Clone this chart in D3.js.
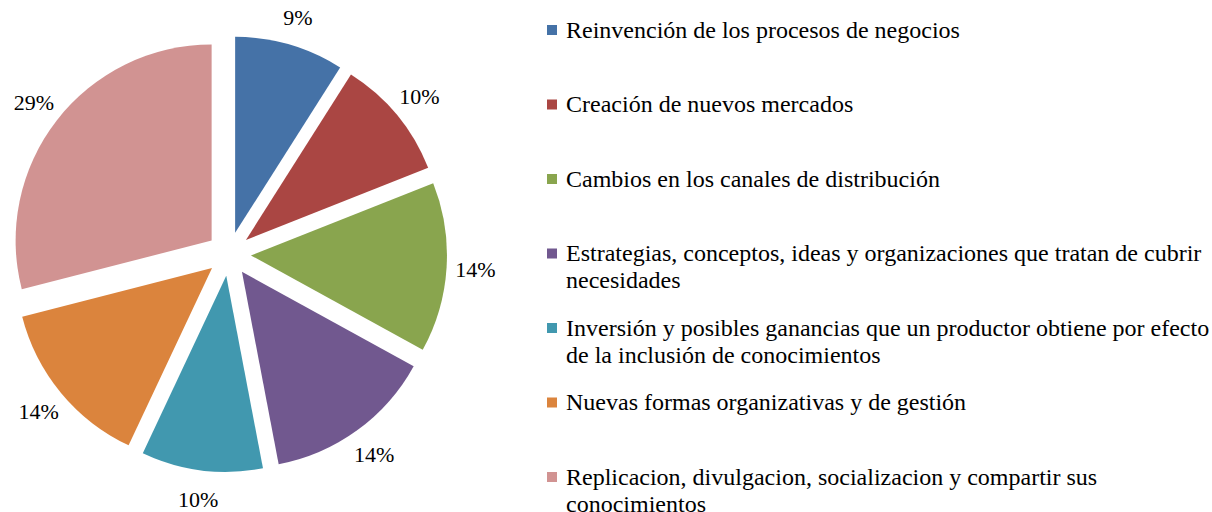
<!DOCTYPE html>
<html>
<head>
<meta charset="utf-8">
<script src="https://cdn.jsdelivr.net/npm/d3@7"></script>
<style>
  body { margin: 0; background: #fff; }
  text { font-family: "Liberation Serif", "Times New Roman", serif; fill: #000; }
</style>
</head>
<body>
<svg class="chart"></svg>
<script>
// legend text, line breaks as in the original legend
var categories = [
  "Reinvención de los procesos de negocios",
  "Creación de nuevos mercados",
  "Cambios en los canales de distribución",
  "Estrategias, conceptos, ideas y organizaciones que tratan de cubrir\nnecesidades",
  "Inversión y posibles ganancias que un productor obtiene por efecto\nde la inclusión de conocimientos",
  "Nuevas formas organizativas y de gestión",
  "Replicacion, divulgacion, socializacion y compartir sus\nconocimientos"
];
var values = [9, 10, 14, 14, 10, 14, 29];
var colors = ["#4572A7", "#AA4643", "#89A54E", "#71588F", "#4198AF", "#DB843D", "#D19392"];

var width = 1212, height = 512;
var cx = 229, cy = 254, radius = 196, explode = 22, labelRadius = 247;

var svg = d3.select(".chart").attr("width", width).attr("height", height);

var pie = d3.pie().sort(null).value(function(d) { return d; });
var arc = d3.arc().innerRadius(0).outerRadius(radius);
var arcs = pie(values);

var chart = svg.append("g").attr("transform", "translate(" + cx + "," + cy + ")");

function offset(d, r) {
  var a = (d.startAngle + d.endAngle) / 2;
  return [Math.sin(a) * r, -Math.cos(a) * r];
}

chart.selectAll("path.slice").data(arcs).enter().append("path")
  .attr("class", "slice")
  .attr("d", arc)
  .attr("fill", function(d, i) { return colors[i]; })
  .attr("transform", function(d) { var o = offset(d, explode); return "translate(" + o[0] + "," + o[1] + ")"; });

chart.selectAll("text.pct").data(arcs).enter().append("text")
  .attr("class", "pct")
  .attr("x", function(d) { return offset(d, labelRadius)[0]; })
  .attr("y", function(d) { return offset(d, labelRadius)[1]; })
  .attr("dy", "0.35em")
  .attr("text-anchor", "middle")
  .style("font-size", "22px")
  .text(function(d) { return d.data + "%"; });

// legend
var legX = 547, legY = 30, legStep = 74.5, lineH = 27;

var legend = svg.append("g");
var item = legend.selectAll("g").data(categories).enter().append("g")
  .attr("transform", function(d, i) { return "translate(" + legX + "," + (legY + i * legStep) + ")"; });

item.append("rect")
  .attr("x", 0).attr("y", -5).attr("width", 10).attr("height", 10)
  .attr("fill", function(d, i) { return colors[i]; });

item.append("text")
  .style("font-size", "24px")
  .selectAll("tspan").data(function(d) { return d.split("\n"); }).enter().append("tspan")
  .attr("x", 19)
  .attr("y", function(d, i) { return i * lineH; })
  .attr("dy", "0.32em")
  .text(function(d) { return d; });
</script>
</body>
</html>
